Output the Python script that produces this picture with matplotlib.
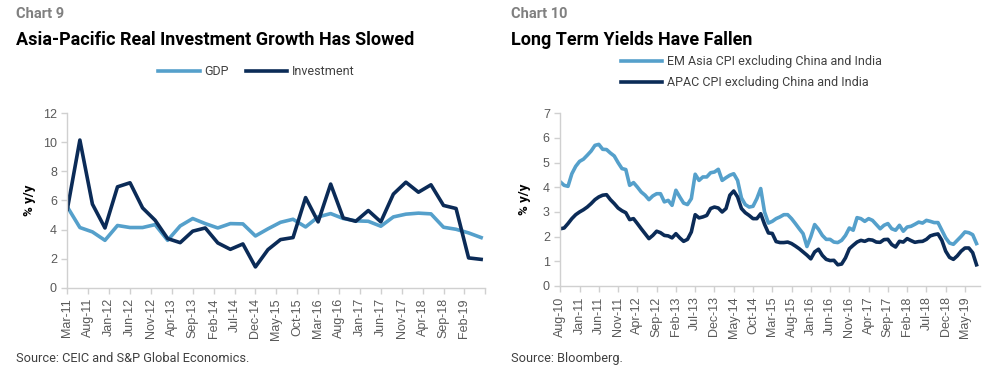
import matplotlib.pyplot as plt
import numpy as np

plt.rcParams['font.family'] = ['Roboto', 'DejaVu Sans']

LIGHT = '#55a0cb'
DARK = '#0b2b57'
GREY_AX = '#d0d0d0'
GREY_TXT = '#595959'

# Chart 9 - quarterly, Mar-11 .. Jun-19 (% y/y)
gdp = [5.56, 4.14, 3.84, 3.26, 4.28, 4.14, 4.14, 4.34, 3.26, 4.25, 4.76, 4.41,
       4.11, 4.41, 4.39, 3.56, 4.05, 4.50, 4.71, 4.18, 4.87, 5.10, 4.76, 4.60,
       4.57, 4.23, 4.87, 5.06, 5.13, 5.08, 4.16, 4.02, 3.77, 3.45]
investment = [5.40, 10.16, 5.75, 4.11, 6.94, 7.22, 5.49, 4.64, 3.38, 3.10, 3.89, 4.11,
              3.08, 2.64, 3.01, 1.43, 2.62, 3.31, 3.45, 6.20, 4.53, 7.13, 4.80, 4.57,
              5.31, 4.53, 6.44, 7.26, 6.57, 7.08, 5.66, 5.45, 2.05, 1.95]
left_ticks = ['Mar-11', 'Aug-11', 'Jan-12', 'Jun-12', 'Nov-12', 'Apr-13', 'Sep-13',
              'Feb-14', 'Jul-14', 'Dec-14', 'May-15', 'Oct-15', 'Mar-16', 'Aug-16',
              'Jan-17', 'Jun-17', 'Nov-17', 'Apr-18', 'Sep-18', 'Feb-19']

# Chart 10 - monthly, Aug-10 .. Aug-19 (% y/y)
em_asia = [4.22, 4.08, 4.04, 4.55, 4.85, 5.05, 5.14, 5.30, 5.47, 5.70, 5.74, 5.54,
           5.53, 5.39, 5.27, 5.00, 4.76, 4.72, 4.08, 4.19, 4.01, 3.81, 3.68, 3.50,
           3.65, 3.74, 3.74, 3.41, 3.47, 3.27, 3.88, 3.61, 3.36, 3.30, 3.54, 4.53,
           4.28, 4.42, 4.42, 4.59, 4.62, 4.73, 4.28, 4.39, 4.49, 4.55, 4.28, 3.57,
           3.30, 3.20, 3.23, 3.54, 3.95, 3.00, 2.55, 2.62, 2.73, 2.80, 2.89, 2.89,
           2.73, 2.53, 2.32, 2.12, 1.60, 2.00, 2.49, 2.30, 2.05, 1.89, 1.89, 1.78,
           1.76, 1.85, 2.05, 2.35, 2.26, 2.77, 2.73, 2.62, 2.73, 2.66, 2.49, 2.32,
           2.46, 2.53, 2.32, 2.26, 2.46, 2.22, 2.39, 2.42, 2.50, 2.59, 2.55, 2.66,
           2.62, 2.57, 2.57, 2.26, 1.95, 1.74, 1.69, 1.85, 2.01, 2.19, 2.16, 2.08,
           1.72]
apac = [2.32, 2.35, 2.53, 2.73, 2.89, 3.00, 3.09, 3.20, 3.34, 3.50, 3.61, 3.68,
        3.70, 3.50, 3.34, 3.16, 3.05, 2.97, 2.69, 2.73, 2.53, 2.32, 2.12, 1.92,
        2.05, 2.22, 2.16, 2.05, 2.03, 1.95, 2.12, 1.95, 1.81, 1.89, 2.19, 2.89,
        2.76, 2.80, 2.86, 3.14, 3.20, 3.16, 3.00, 3.14, 3.68, 3.85, 3.61, 3.14,
        2.97, 2.86, 2.73, 2.73, 2.93, 2.50, 2.15, 2.13, 1.80, 1.76, 1.76, 1.78,
        1.72, 1.62, 1.51, 1.38, 1.25, 1.10, 1.38, 1.49, 1.24, 1.08, 1.03, 1.04,
        0.86, 0.89, 1.14, 1.51, 1.65, 1.78, 1.85, 1.81, 1.88, 1.86, 1.78, 1.77,
        1.88, 1.89, 1.68, 1.58, 1.81, 1.78, 1.92, 1.84, 1.77, 1.80, 1.81, 1.89,
        2.03, 2.08, 2.11, 1.85, 1.41, 1.16, 1.08, 1.22, 1.41, 1.54, 1.54, 1.35,
        0.86]
right_ticks = ['Aug-10', 'Jan-11', 'Jun-11', 'Nov-11', 'Apr-12', 'Sep-12', 'Feb-13',
               'Jul-13', 'Dec-13', 'May-14', 'Oct-14', 'Mar-15', 'Aug-15', 'Jan-16',
               'Jun-16', 'Nov-16', 'Apr-17', 'Sep-17', 'Feb-18', 'Jul-18', 'Dec-18',
               'May-19']


def style(ax):
    for s in ['top', 'right']:
        ax.spines[s].set_visible(False)
    for s in ['left', 'bottom']:
        ax.spines[s].set_color(GREY_AX)
        ax.spines[s].set_linewidth(1.0)
    ax.tick_params(axis='both', colors=GREY_AX, length=4, width=1.0,
                   labelcolor=GREY_TXT, labelsize=9)
    for lab in ax.get_xticklabels() + ax.get_yticklabels():
        lab.set_fontfamily(['Liberation Sans', 'DejaVu Sans'])
    ax.set_ylabel('% y/y', fontsize=9.5, fontweight='bold', color='black')


fig = plt.figure(figsize=(10.05, 3.9), dpi=100)

# ---- Chart 9
ax1 = fig.add_axes([0.0670, 0.2623, 0.4159, 0.4472])
qx = np.arange(len(gdp)) * 3
ax1.plot(qx, gdp, color=LIGHT, lw=2.6, label='GDP')
ax1.plot(qx, investment, color=DARK, lw=2.6, label='Investment')
ax1.set_xlim(0, 100)
ax1.set_ylim(0, 12)
ax1.set_yticks(range(0, 13, 2))
ax1.set_xticks(range(0, 101, 5))
ax1.set_xticklabels(left_ticks + [''], rotation=90)
style(ax1)
ax1.yaxis.set_label_coords(-0.075, 0.5)
ax1.legend(loc='center', bbox_to_anchor=(0.255, 0.816), bbox_transform=fig.transFigure,
           ncol=2, frameon=False, fontsize=9, handlelength=3.3, handletextpad=0.35,
           columnspacing=1.4, labelcolor='#404040')

fig.text(0.016, 0.963, 'Chart 9', fontsize=10.5, fontweight='bold', color='#808080', va='center')
fig.text(0.016, 0.897, 'Asia-Pacific Real Investment Growth Has Slowed', fontsize=13,
         fontweight='bold', color='black', va='center')
fig.text(0.016, 0.080, 'Source: CEIC and S&P Global Economics.', fontsize=9.2,
         color='#404040', va='center')

# ---- Chart 10
ax2 = fig.add_axes([0.5575, 0.2667, 0.4180, 0.4428])
mx = np.arange(len(em_asia))
ax2.plot(mx, em_asia, color=LIGHT, lw=2.6, label='EM Asia CPI excluding China and India')
ax2.plot(mx, apac, color=DARK, lw=2.6, label='APAC CPI excluding China and India')
ax2.set_xlim(0, 109)
ax2.set_ylim(0, 7)
ax2.set_yticks(range(0, 8))
ax2.set_xticks(range(0, 106, 5))
ax2.set_xticklabels(right_ticks, rotation=90)
style(ax2)
ax2.yaxis.set_label_coords(-0.07, 0.5)
ax2.legend(loc='upper left', bbox_to_anchor=(0.618, 0.858), bbox_transform=fig.transFigure,
           ncol=1, frameon=False, fontsize=9, handlelength=3.3, handletextpad=0.35,
           labelspacing=0.6, labelcolor='#404040', borderaxespad=0, borderpad=0)

fig.text(0.508, 0.963, 'Chart 10', fontsize=10.5, fontweight='bold', color='#808080', va='center')
fig.text(0.508, 0.897, 'Long Term Yields Have Fallen', fontsize=13,
         fontweight='bold', color='black', va='center')
fig.text(0.508, 0.080, 'Source: Bloomberg.', fontsize=9.2, color='#404040', va='center')

fig.savefig('out.png', dpi=100)
